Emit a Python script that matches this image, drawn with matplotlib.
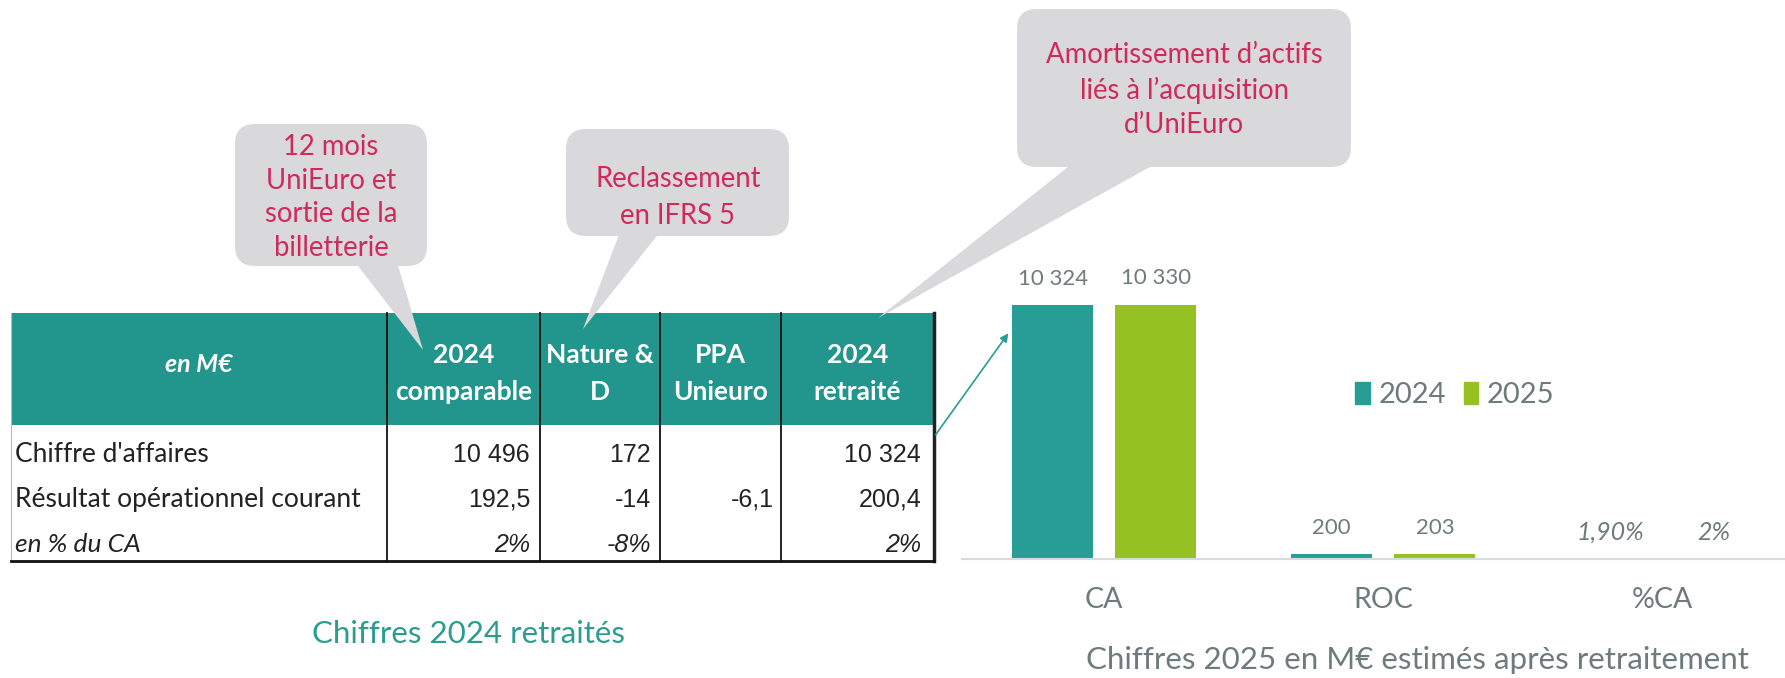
import numpy as np
import matplotlib
matplotlib.use("Agg")
import matplotlib.pyplot as plt
from matplotlib.patches import FancyBboxPatch, Polygon, Rectangle, Patch

W, H = 1785, 678

# table data
col_headers = [["2024", "comparable"], ["Nature &", "D"], ["PPA", "Unieuro"], ["2024", "retraité"]]
row_labels = ["Chiffre d'affaires", "Résultat opérationnel courant", "en % du CA"]
comparable = [10496, 192.5, 2]
nature = [172, -14, -8]
ppa = [None, -6.1, None]
retraite = [10324, 200.4, 2]

# bar chart data
categories = ["CA", "ROC", "%CA"]
v2024 = [10324, 200, 1.9]
v2025 = [10330, 203, 2.0]
lab2024 = ["10 324", "200", "1,90%"]
lab2025 = ["10 330", "203", "2%"]

TEAL_HEAD = "#22968c"
TEAL = "#289d96"
GREEN = "#95c123"
GRAY_BOX = "#d9d9db"
RED_TXT = "#d12a5a"
CHART_TXT = "#6e7b7b"
SANS = ["Lato", "DejaVu Sans"]
NUM = ["Liberation Sans", "DejaVu Sans"]


def fmt(v, row):
    if v is None:
        return ""
    if row == 2:
        return f"{v:g}%"
    if float(v).is_integer():
        s = f"{int(v):,}".replace(",", " ")
    else:
        s = f"{v:.1f}".replace(".", ",")
    return s


fig = plt.figure(figsize=(W / 100, H / 100), dpi=100)

# ---- bar chart ----
ax = fig.add_axes([962 / W, (H - 559) / H, (W - 962) / W, (559 - 190) / H])
x = np.arange(len(categories))
off, bw = 0.185, 0.29
ax.bar(x - off, v2024, bw, color=TEAL, label="2024")
ax.bar(x + off, v2025, bw, color=GREEN, label="2025")
for i in range(len(categories)):
    pct = i == 2
    kw = dict(textcoords="offset points", ha="center", va="center", color=CHART_TXT,
              family=SANS, style="italic" if pct else "normal", fontsize=18 if pct else 16)
    ax.annotate(lab2024[i], (x[i] - off, v2024[i]), xytext=(0, 19), **kw)
    ax.annotate(lab2025[i], (x[i] + off, v2025[i]), xytext=(0, 19), **kw)
ax.set_xlim(-0.51, 2.44)
ax.set_ylim(0, 15000)
ax.set_xticks(x)
ax.set_xticklabels(categories, fontsize=20.5, color=CHART_TXT, family=SANS)
ax.tick_params(axis="x", length=0, pad=20)
ax.set_yticks([])
for s in ["top", "right", "left"]:
    ax.spines[s].set_visible(False)
ax.spines["bottom"].set_color("#d5dcdc")
ax.spines["bottom"].set_linewidth(1.5)
ax.patch.set_alpha(0)
handles = [Patch(color=TEAL, label="2024"), Patch(color=GREEN, label="2025")]
leg = fig.legend(handles=handles, loc="center", bbox_to_anchor=(1455 / W, 1 - 395 / H), ncol=2,
                 frameon=False, fontsize=21, handlelength=0.5, handleheight=0.75,
                 handletextpad=0.3, columnspacing=0.6)
for t in leg.get_texts():
    t.set_color(CHART_TXT)
    t.set_family(SANS)

# ---- pixel overlay ----
ov = fig.add_axes([0, 0, 1, 1], zorder=5)
ov.set_xlim(0, W)
ov.set_ylim(H, 0)
ov.axis("off")

# table
tx0, tx1, ty0, thead, ty1 = 11, 934, 313, 425, 561
cols = [tx0, 387, 540, 660, 781, tx1]
ov.add_patch(Rectangle((tx0, ty0), tx1 - tx0, thead - ty0, fc=TEAL_HEAD, ec="none"))
for cx in cols[1:-1]:
    ov.plot([cx, cx], [ty0, ty1], color="#111111", lw=1.3)
ov.plot([tx0, tx0], [ty0, ty1], color="#bbbbbb", lw=0.8)
ov.plot([tx1, tx1], [ty0, ty1], color="#222222", lw=2.5)
ov.plot([tx0, tx1], [ty1, ty1], color="#111111", lw=2)

ov.text((cols[0] + cols[1]) / 2, 365, "en M€", color="white", fontsize=18, weight="bold",
        style="italic", family=SANS, ha="center", va="center")
for j, lines in enumerate(col_headers):
    cx = (cols[j + 1] + cols[j + 2]) / 2
    for k, ln in enumerate(lines):
        ov.text(cx, 355 + 37 * k, ln, color="white", fontsize=19, weight="bold",
                family=SANS, ha="center", va="center")

row_y = [455, 500, 545]
for r, lab in enumerate(row_labels):
    ov.text(15, row_y[r], lab, fontsize=19, color="#222222", family=SANS, ha="left", va="center",
            style="italic" if r == 2 else "normal")
pads = [10, 9, 7, 13]
for j, col in enumerate([comparable, nature, ppa, retraite]):
    for r, v in enumerate(col):
        ov.text(cols[j + 2] - pads[j], row_y[r], fmt(v, r), fontsize=18, color="#222222",
                family=NUM, ha="right", va="center", style="italic" if r == 2 else "normal")

ov.text(468, 634, "Chiffres 2024 retraités", fontsize=22.5, color="#2a9d8f", family=SANS,
        ha="center", va="center")
ov.text(1417, 660, "Chiffres 2025 en M€ estimés après retraitement", fontsize=22.5,
        color=CHART_TXT, family=SANS, ha="center", va="center")

# connector from table to bar
ov.annotate("", xy=(1010, 331), xytext=(934, 437),
            arrowprops=dict(arrowstyle="-|>", color=TEAL, lw=1.2, mutation_scale=12))


def callout(box, base, tip, lines, cx, ys):
    x0, y0, x1, y1 = box
    ov.add_patch(FancyBboxPatch((x0, y0), x1 - x0, y1 - y0,
                                boxstyle="round,pad=0,rounding_size=20",
                                fc=GRAY_BOX, ec="none"))
    ov.add_patch(Polygon([(base[0], y1 - 4), (base[1], y1 - 4), tip], fc=GRAY_BOX, ec="none"))
    for ln, yy in zip(lines, ys):
        ov.text(cx, yy, ln, fontsize=19.8, color=RED_TXT, family=SANS, ha="center", va="center")


callout((235, 124, 427, 266), (355, 397), (423, 350),
        ["12 mois", "UniEuro et", "sortie de la", "billetterie"], 331, [147, 181, 214, 248])
callout((566, 129, 789, 236), (620, 660), (583, 329),
        ["Reclassement", "en IFRS 5"], 678, [179, 216])
callout((1017, 9, 1351, 167), (1073, 1157), (878, 318),
        ["Amortissement d’actifs", "liés à l’acquisition", "d’UniEuro"], 1184, [55, 90, 125])

fig.savefig("out.png", dpi=100)
